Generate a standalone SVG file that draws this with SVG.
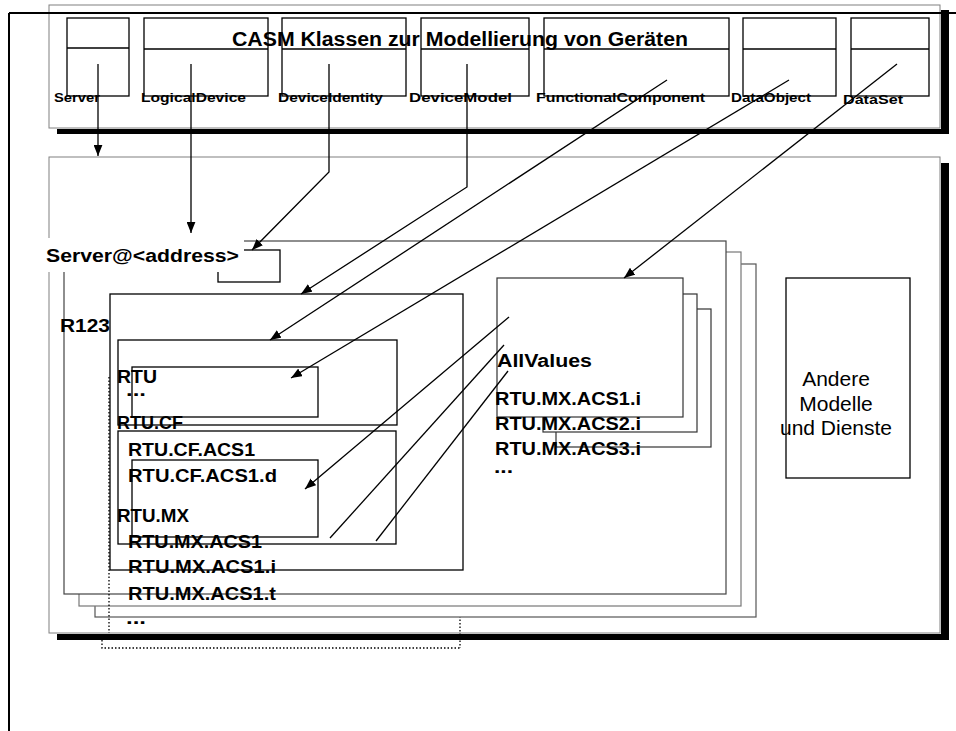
<svg xmlns="http://www.w3.org/2000/svg" width="956" height="731" viewBox="0 0 956 731">
<style>
  .gray{fill:none;stroke:#808080;stroke-width:1}
  .wgray{fill:#fff;stroke:#808080;stroke-width:1}
  .blk{fill:none;stroke:#000;stroke-width:1.3}
  .wblk{fill:#fff;stroke:#333;stroke-width:1.2}
  .shadow{fill:#000}
  .conn{fill:none;stroke:#000;stroke-width:1.3}
  .dot{fill:none;stroke:#000;stroke-width:1.3;stroke-dasharray:1.5 2}
  text{font-family:"Liberation Sans",Arial,sans-serif;fill:#000}
  .cls{font-size:12px;font-weight:bold}
  .title{font-size:20px;font-weight:bold}
  .lbl{font-size:18px;font-weight:bold}
  .reg{font-size:21px}
</style>
<defs>
  <marker id="arr" viewBox="0 0 10 8" refX="10" refY="4" markerWidth="11" markerHeight="9" markerUnits="userSpaceOnUse" orient="auto">
    <path d="M0,0 L10,4 L0,8 Z" fill="#000"/>
  </marker>
</defs>

<!-- dotted selection (partly hidden) -->
<g id="selection">
  <path class="dot" d="M102,640 V648 H460"/>
</g>

<!-- top box: CASM classes -->
<g id="casm-classes">
  <rect class="shadow" x="941" y="10" width="8" height="124"/>
  <rect class="shadow" x="57" y="129" width="892" height="5"/>
  <rect class="wgray" x="49" y="5" width="891" height="123"/>
  <g id="cls-server"><rect class="blk" x="67" y="18" width="62" height="78"/><line class="blk" x1="67" y1="48" x2="129" y2="48"/></g>
  <g id="cls-logicaldevice"><rect class="blk" x="144" y="18" width="124" height="78"/><line class="blk" x1="144" y1="49" x2="268" y2="49"/></g>
  <g id="cls-deviceidentity"><rect class="blk" x="282" y="18" width="124" height="78"/><line class="blk" x1="282" y1="49" x2="406" y2="49"/></g>
  <g id="cls-devicemodel"><rect class="blk" x="421" y="18" width="108" height="78"/><line class="blk" x1="421" y1="49" x2="529" y2="49"/></g>
  <g id="cls-functionalcomponent"><rect class="blk" x="544" y="18" width="185" height="78"/><line class="blk" x1="544" y1="49" x2="729" y2="49"/></g>
  <g id="cls-dataobject"><rect class="blk" x="743" y="18" width="93" height="78"/><line class="blk" x1="743" y1="49" x2="836" y2="49"/></g>
  <g id="cls-dataset"><rect class="blk" x="851" y="18" width="78" height="78"/><line class="blk" x1="851" y1="49" x2="929" y2="49"/></g>
</g>

<!-- main model box -->
<g id="model-area">
  <rect class="shadow" x="941" y="163" width="8" height="477"/>
  <rect class="shadow" x="57" y="634" width="892" height="6"/>
  <rect class="wgray" x="49" y="157" width="891" height="476"/>
</g>

<g id="dotted-right">
  <path class="dot" d="M443,367 H460 V648"/>
</g>

<!-- server stack -->
<g id="server-stack">
  <rect fill="#fff" stroke="#555" stroke-width="1.2" x="95" y="264" width="661" height="353"/>
  <rect fill="#fff" stroke="#777" stroke-width="1.2" x="79" y="252" width="662" height="354"/>
  <rect fill="#fff" stroke="#444" stroke-width="1.2" x="64" y="241" width="662" height="353"/>
  <rect class="blk" x="218" y="250" width="62" height="32"/>
</g>

<g id="dotted-left">
  <path class="dot" d="M109,377 V633"/>
</g>

<!-- logical device R123 -->
<g id="ld-r123">
  <rect class="blk" x="110" y="294" width="353" height="276"/>
</g>
<g id="ln-rtu-cf">
  <rect class="blk" x="118" y="340" width="279" height="85"/>
  <rect class="blk" x="132" y="367" width="186" height="50"/>
</g>
<g id="ln-rtu-mx">
  <rect class="blk" x="118" y="431" width="278" height="113"/>
  <rect class="blk" x="132" y="460" width="186" height="77"/>
</g>

<!-- AllValues data set stack -->
<g id="dataset-allvalues">
  <rect class="wblk" x="556" y="309" width="155" height="138"/>
  <rect class="wblk" x="543" y="294" width="154" height="138"/>
  <rect class="wblk" x="497" y="278" width="186" height="139"/>
</g>

<!-- other models -->
<g id="other-models">
  <rect class="blk" x="786" y="278" width="124" height="200"/>
  <text class="reg" x="836" y="386" text-anchor="middle">Andere</text>
  <text class="reg" x="836" y="411" text-anchor="middle">Modelle</text>
  <text class="reg" x="836" y="435" text-anchor="middle">und Dienste</text>
</g>

<!-- frame -->
<g id="frame">
  <line x1="9" y1="13" x2="956" y2="13" stroke="#000" stroke-width="2"/>
  <line x1="9" y1="13" x2="9" y2="731" stroke="#000" stroke-width="2"/>
</g>

<!-- connectors -->
<g id="connectors">
  <path class="conn" d="M98,64 V156" marker-end="url(#arr)"/>
  <path class="conn" d="M191,64 V233" marker-end="url(#arr)"/>
  <path class="conn" d="M329,64 V172 L252,250" marker-end="url(#arr)"/>
  <path class="conn" d="M467,64 V187 L301,294" marker-end="url(#arr)"/>
  <path class="conn" d="M667,80 L270,340" marker-end="url(#arr)"/>
  <path class="conn" d="M789,80 L291,378" marker-end="url(#arr)"/>
  <path class="conn" d="M897,64 L624,278" marker-end="url(#arr)"/>
  <path class="conn" d="M509,317 L305,489" marker-end="url(#arr)"/>
  <path class="conn" d="M504,345 L330,538"/>
  <path class="conn" d="M508,371 L376,541"/>
</g>

<!-- labels -->
<g id="labels">
  <text class="title" x="232" y="46" textLength="456" lengthAdjust="spacingAndGlyphs">CASM Klassen zur Modellierung von Geräten</text>
  <text class="cls" x="54" y="102" textLength="46" lengthAdjust="spacingAndGlyphs">Server</text>
  <text class="cls" x="141" y="102" textLength="105" lengthAdjust="spacingAndGlyphs">LogicalDevice</text>
  <text class="cls" x="278" y="102" textLength="105" lengthAdjust="spacingAndGlyphs">DeviceIdentity</text>
  <text class="cls" x="409" y="102" textLength="103" lengthAdjust="spacingAndGlyphs">DeviceModel</text>
  <text class="cls" x="536" y="102" textLength="169" lengthAdjust="spacingAndGlyphs">FunctionalComponent</text>
  <text class="cls" x="731" y="102" textLength="80" lengthAdjust="spacingAndGlyphs">DataObject</text>
  <text class="cls" x="843" y="104" textLength="60" lengthAdjust="spacingAndGlyphs">DataSet</text>

  <rect x="44" y="238" width="200" height="34" fill="#fff"/>
  <text class="lbl" x="46" y="262" font-size="19" textLength="193" lengthAdjust="spacingAndGlyphs">Server@&lt;address&gt;</text>
  <text class="lbl" x="60" y="332" font-size="20" textLength="50" lengthAdjust="spacingAndGlyphs">R123</text>

  <text class="lbl" x="117" y="383" textLength="40" lengthAdjust="spacingAndGlyphs">RTU</text>
  <text class="lbl" x="126" y="396" textLength="20" lengthAdjust="spacingAndGlyphs">...</text>
  <text class="lbl" x="117" y="429" textLength="66" lengthAdjust="spacingAndGlyphs">RTU.CF</text>
  <text class="lbl" x="128" y="456" textLength="127" lengthAdjust="spacingAndGlyphs">RTU.CF.ACS1</text>
  <text class="lbl" x="128" y="482" textLength="149" lengthAdjust="spacingAndGlyphs">RTU.CF.ACS1.d</text>
  <text class="lbl" x="117" y="522" textLength="72" lengthAdjust="spacingAndGlyphs">RTU.MX</text>
  <text class="lbl" x="128" y="548" textLength="134" lengthAdjust="spacingAndGlyphs">RTU.MX.ACS1</text>
  <text class="lbl" x="128" y="573" textLength="148" lengthAdjust="spacingAndGlyphs">RTU.MX.ACS1.i</text>
  <text class="lbl" x="128" y="600" textLength="148" lengthAdjust="spacingAndGlyphs">RTU.MX.ACS1.t</text>
  <text class="lbl" x="126" y="624" textLength="20" lengthAdjust="spacingAndGlyphs">...</text>

  <text class="lbl" x="497" y="367" font-size="19" textLength="95" lengthAdjust="spacingAndGlyphs">AllValues</text>
  <text class="lbl" x="495" y="405" textLength="146" lengthAdjust="spacingAndGlyphs">RTU.MX.ACS1.i</text>
  <text class="lbl" x="495" y="430" textLength="146" lengthAdjust="spacingAndGlyphs">RTU.MX.ACS2.i</text>
  <text class="lbl" x="495" y="455" textLength="146" lengthAdjust="spacingAndGlyphs">RTU.MX.ACS3.i</text>
  <text class="lbl" x="494" y="473" textLength="19" lengthAdjust="spacingAndGlyphs">...</text>
</g>
</svg>
